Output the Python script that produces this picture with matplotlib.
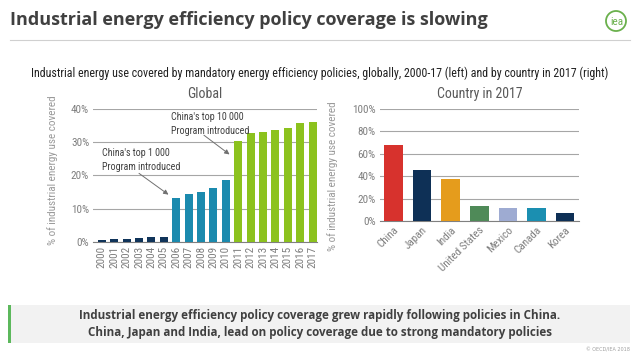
import matplotlib
matplotlib.use("Agg")
import matplotlib.pyplot as plt
from matplotlib import font_manager as fm
from matplotlib.patches import Ellipse, Rectangle
from matplotlib.lines import Line2D

years = [str(y) for y in range(2000, 2018)]
global_cov = [0.5, 0.8, 0.8, 1.1, 1.5, 1.5, 13.1, 14.3, 14.9, 16.2, 18.5,
              30.5, 32.8, 33.2, 33.7, 34.2, 35.7, 36.2]
countries = ["China", "Japan", "India", "United States", "Mexico", "Canada", "Korea"]
country_cov = [67.9, 45.5, 37.5, 13.7, 11.6, 11.3, 7.1]

navy = "#10345a"
teal = "#1b8aae"
lime = "#8cc21e"
year_colors = [navy] * 6 + [teal] * 5 + [lime] * 7
country_colors = ["#d7322d", "#0e3056", "#e59c1c", "#4f8a58", "#9eabd2", "#1b8fb1", "#0e3056"]

# pick a narrow font if one is around, otherwise shrink Liberation Sans
installed = {f.name for f in fm.fontManager.ttflist}
cands = ["Liberation Sans Narrow", "Arial Narrow", "Roboto Condensed",
         "Open Sans Condensed", "Noto Sans Condensed", "DejaVu Sans Condensed"]
found = [c for c in cands if c in installed]
if found:
    narrow = [found[0], "DejaVu Sans"]
    k = 1.0
else:
    narrow = ["Liberation Sans", "DejaVu Sans"]
    k = 0.84
grey = "#7f7f7f"

fig = plt.figure(figsize=(6.38, 3.59), dpi=100)

# header
fig.text(10 / 638, 1 - 20 / 359, "Industrial energy efficiency policy coverage is slowing",
         fontsize=13, fontweight="bold", color="#404040", va="center", ha="left",
         family=["Open Sans", "DejaVu Sans"])
fig.add_artist(Line2D([10 / 638, 630 / 638], [1 - 40 / 359] * 2, color="#d0d0d0", lw=0.8))
fig.add_artist(Ellipse((616 / 638, 1 - 21 / 359), 20 / 638, 20 / 359,
                       transform=fig.transFigure, fill=False, ec="#6ab04c", lw=1.3))
fig.text(617 / 638, 1 - 22 / 359, "iea", color="#6ab04c", fontsize=8,
         ha="center", va="center", family=narrow)

fig.text(320 / 638, 1 - 73 / 359,
         "Industrial energy use covered by mandatory energy efficiency policies, globally, 2000-17 (left) and by country in 2017 (right)",
         fontsize=8.55 * k, color="#202020", ha="center", va="center", family=narrow)

# left: global
ax1 = fig.add_axes([0.1463, 0.3267, 0.3501, 0.3697])
ax1.bar(range(len(years)), global_cov, width=0.65, color=year_colors, zorder=3)
ax1.set_xlim(-0.68, 17.33)
ax1.set_ylim(0, 40)
ax1.set_yticks([0, 10, 20, 30, 40])
ax1.set_yticklabels(["0%", "10%", "20%", "30%", "40%"])
ax1.set_xticks(range(len(years)))
ax1.set_xticklabels(years, rotation=90)
ax1.set_ylabel("% of industrial energy use covered", color="#999999", fontsize=8 * k,
               family=narrow)
ax1.yaxis.set_label_coords(-0.158, 0.54)
ax1.set_title("Global", color="#595959", fontsize=10 * k, family=narrow, pad=8)
ax1.text(0, 28.2, "China's top 1 000\nProgram introduced", fontsize=7.2 * k,
         color="#404040", family=narrow, ha="left", va="top", linespacing=1.5)
ax1.annotate("", xy=(5.56, 13.7), xytext=(2.82, 21.1),
             arrowprops=dict(arrowstyle="-|>", color="#707070", lw=0.7, mutation_scale=7))
ax1.text(5.59, 39.2, "China's top 10 000\nProgram introduced", fontsize=7.2 * k,
         color="#404040", family=narrow, ha="left", va="top", linespacing=1.5)
ax1.annotate("", xy=(10.48, 25.8), xytext=(8.06, 32.6),
             arrowprops=dict(arrowstyle="-|>", color="#707070", lw=0.7, mutation_scale=7))

# right: country
ax2 = fig.add_axes([0.5956, 0.3844, 0.3124, 0.312])
ax2.bar(range(len(countries)), country_cov, width=0.65, color=country_colors, zorder=3)
ax2.set_xlim(-0.47, 6.5)
ax2.set_ylim(0, 100)
ax2.set_yticks([0, 20, 40, 60, 80, 100])
ax2.set_yticklabels(["0%", "20%", "40%", "60%", "80%", "100%"])
ax2.set_xticks(range(len(countries)))
ax2.set_xticklabels(countries, rotation=45, ha="right", rotation_mode="anchor")
ax2.set_ylabel("% of industrial energy use covered", color="#999999", fontsize=8 * k,
               family=narrow)
ax2.yaxis.set_label_coords(-0.21, 0.40)
ax2.set_title("Country in 2017", color="#595959", fontsize=10 * k, family=narrow, pad=8)

for ax in (ax1, ax2):
    for s in ("top", "right", "left"):
        ax.spines[s].set_visible(False)
    ax.spines["bottom"].set_color("#808080")
    ax.spines["bottom"].set_linewidth(0.8)
    ax.grid(axis="y", color="#a6a6a6", lw=0.8, zorder=0)
    ax.tick_params(length=0, labelsize=8 * k, labelcolor=grey, pad=3)
    for lab in ax.get_xticklabels() + ax.get_yticklabels():
        lab.set_family(narrow)

# footer box
fig.add_artist(Rectangle((8 / 638, 1 - 343 / 359), 622 / 638, 38 / 359,
                         transform=fig.transFigure, color="#f2f2f2", lw=0))
fig.add_artist(Rectangle((8 / 638, 1 - 343 / 359), 3 / 638, 38 / 359,
                         transform=fig.transFigure, color="#5cb85c", lw=0))
fig.text(320 / 638, 1 - 324 / 359,
         "Industrial energy efficiency policy coverage grew rapidly following policies in China.\n"
         "China, Japan and India, lead on policy coverage due to strong mandatory policies",
         fontsize=8.4, fontweight="bold", color="#404040", ha="center", va="center",
         linespacing=1.35, family=["Open Sans", "DejaVu Sans"])
fig.text(630 / 638, 1 - 350 / 359, "© OECD/IEA 2018", fontsize=3.5, color="#a0a0a0",
         ha="right", va="center")

fig.savefig("out.png", dpi=100)
